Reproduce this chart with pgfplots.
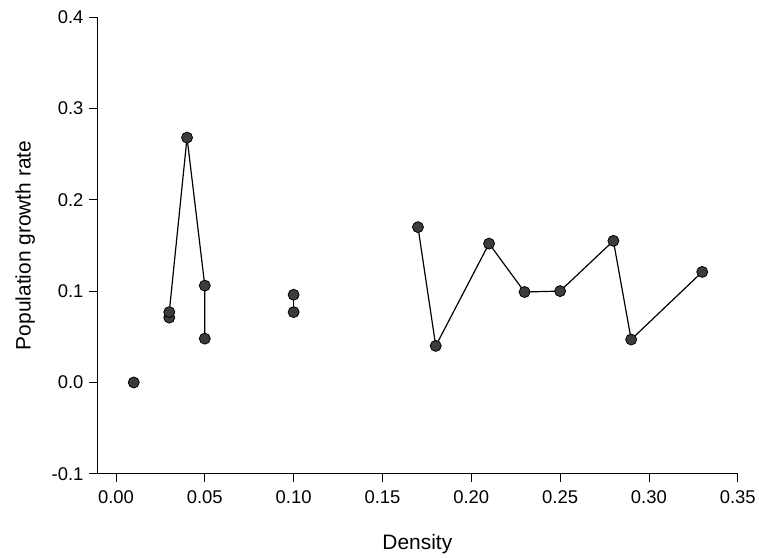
\documentclass[border=0pt]{standalone}
\usepackage{pgfplots}
\pgfplotsset{compat=1.18}
\usepackage{fontspec}
\setmainfont{Liberation Sans}

\definecolor{markfill}{HTML}{3C3C3C}

\pgfplotsset{
  growth/.style={
    black, line width=1.2pt,
    mark=*, mark size=5.5bp,
    mark options={fill=markfill, draw=black, line width=0.8pt, solid}
  }
}

\begin{document}
\begin{tikzpicture}
\begin{axis}[
  scale only axis,
  width=641bp, height=457bp,
  xmin=-0.0107, xmax=0.35,
  ymin=-0.1, ymax=0.4,
  axis lines=left,
  axis line style={-, line width=0.9pt},
  xtick={0,0.05,...,0.35},
  ytick={-0.1,0,0.1,0.2,0.3,0.4},
  tick align=outside,
  major tick length=8bp,
  tick style={line width=0.8pt, black},
  /pgf/number format/assume math mode=true,
  xticklabel style={yshift=-5bp, /pgf/number format/.cd, fixed, fixed zerofill, precision=2},
  yticklabel style={xshift=-2bp, /pgf/number format/.cd, fixed, fixed zerofill, precision=1},
  ticklabel style={font=\fontsize{18.5}{22}\selectfont},
  label style={font=\fontsize{21}{25}\selectfont},
  xlabel={Density},
  ylabel={Population growth rate},
  xlabel style={yshift=-24bp},
  ylabel style={yshift=10bp},
  clip=false,
]
% lowest density, isolated point
\addplot[growth, only marks] coordinates {(0.01,0.000)};
% early series
\addplot[growth] coordinates {
  (0.03,0.071) (0.03,0.077) (0.04,0.268) (0.05,0.106) (0.05,0.048)
};
% mid density pair
\addplot[growth] coordinates {(0.10,0.096) (0.10,0.077)};
% high density series
\addplot[growth] coordinates {
  (0.17,0.170) (0.18,0.040) (0.21,0.152) (0.23,0.099)
  (0.25,0.100) (0.28,0.155) (0.29,0.047) (0.33,0.121)
};
% picture margins
\path (rel axis cs:0,0) ++(-97bp,-81bp);
\path (rel axis cs:1,1) ++(21bp,17bp);
\end{axis}
\end{tikzpicture}
\end{document}
